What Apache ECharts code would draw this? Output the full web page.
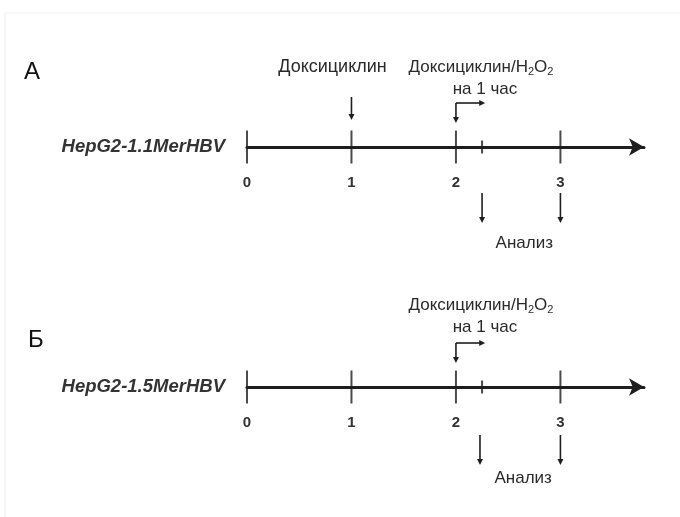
<!DOCTYPE html>
<html><head><meta charset="utf-8">
<script src="https://cdn.jsdelivr.net/npm/echarts@6/dist/echarts.min.js"></script>
<style>html,body{margin:0;padding:0;background:#fff}#c{width:680px;height:517px}</style>
</head><body><div id="c"></div>
<script>
// ---- data ----
const days = [0, 1, 2, 3];              // day tick labels
const minorTicks = [2.25];              // small tick (1 h after treatment)
const panelLetters = ['А', 'Б'];
const cellLines = ['HepG2-1.1MerHBV', 'HepG2-1.5MerHBV'];
const doxDays = [[1], []];              // doxycycline addition (panel A only)
const treatStart = [2, 2];              // doxycycline/H2O2 start
const treatEnd = [2.28, 2.28];          // end of 1 h treatment arrow
const analysisDays = [[2.25, 3], [2.23, 3]];
const doxLabel = 'Доксициклин';
const treatLabelParts = ['Доксициклин/H', '2', 'O', '2'];
const treatSubLabel = 'на 1 час';
const analysisLabel = 'Анализ';
const xMax = 3.8;

// ---- layout ----
const axisY = [147, 387];
const labelOff = [{treat: -80, sub: -58, ana: 96, aTop: 46}, {treat: -82, sub: -60, ana: 91, aTop: 48}];
const font = '"Liberation Sans", Arial, sans-serif';
const ink = '#1e1e1e';
const txt = '#2a2a2a';

const chart = echarts.init(document.getElementById('c'));

function downArrow(x, y1, y2) {
  return [
    {type: 'line', shape: {x1: x, y1: y1, x2: x, y2: y2 - 4}, style: {stroke: ink, lineWidth: 1.6}},
    {type: 'polygon', shape: {points: [[x - 3, y2 - 6], [x + 3, y2 - 6], [x, y2]]}, style: {fill: ink}}
  ];
}
function label(x, y, text, extra) {
  return {type: 'text', x: x, y: y, style: Object.assign({text: text, font: '17px ' + font, fill: txt, align: 'center', verticalAlign: 'middle'}, extra || {})};
}

const items = [0, 1].map(p => {
  const arr = [{kind: 'cell', x: 0}];
  doxDays[p].forEach(d => arr.push({kind: 'dox', x: d}));
  arr.push({kind: 'treat', x: treatStart[p], x2: treatEnd[p]});
  arr.push({kind: 'analysis', x: analysisDays[p][0], xs: analysisDays[p]});
  return arr;
});

function makeRender(p) {
  return function (params, api) {
    const it = items[p][params.dataIndex];
    const c = api.coord([it.x, 0]);
    const x0 = c[0], y0 = c[1];
    const o = labelOff[p];
    let ch = [];
    if (it.kind === 'cell') {
      ch.push(label(x0 - 22, y0, cellLines[p], {font: 'italic bold 18.5px ' + font, align: 'right', fill: '#333'}));
    } else if (it.kind === 'dox') {
      ch = ch.concat(downArrow(x0, y0 - 50, y0 - 27));
      ch.push(label(x0 - 19, y0 - 80, doxLabel, {font: '18px ' + font}));
    } else if (it.kind === 'treat') {
      const x1 = api.coord([it.x2, 0])[0];
      const yt = y0 - 44;
      ch = ch.concat(downArrow(x0, yt, y0 - 24));
      ch.push({type: 'line', shape: {x1: x0, y1: yt, x2: x1 - 4, y2: yt}, style: {stroke: ink, lineWidth: 1.6}});
      ch.push({type: 'polygon', shape: {points: [[x1 - 6, yt - 3], [x1 - 6, yt + 3], [x1, yt]]}, style: {fill: ink}});
      ch.push({type: 'text', x: x0 + 25, y: y0 + o.treat, style: {
        text: '{a|' + treatLabelParts[0] + '}{s|' + treatLabelParts[1] + '}{a|' + treatLabelParts[2] + '}{s|' + treatLabelParts[3] + '}',
        align: 'center', verticalAlign: 'middle',
        rich: {a: {fontSize: 17, fontFamily: font, fill: txt, lineHeight: 20},
               s: {fontSize: 11, fontFamily: font, fill: txt, lineHeight: 10, verticalAlign: 'bottom'}}
      }});
      ch.push(label(x0 + 29, y0 + o.sub, treatSubLabel));
    } else if (it.kind === 'analysis') {
      const xs = it.xs.map(d => api.coord([d, 0])[0]);
      xs.forEach(xa => { ch = ch.concat(downArrow(xa, y0 + o.aTop, y0 + o.aTop + 30)); });
      ch.push(label((xs[0] + xs[xs.length - 1]) / 2 + 3, y0 + o.ana, analysisLabel));
    }
    return {type: 'group', children: ch};
  };
}

const grid = [], xAxis = [], yAxis = [], series = [];
[0, 1].forEach(p => {
  grid.push({left: 247, right: 36, top: axisY[p] - 60, height: 60});
  xAxis.push({gridIndex: p, type: 'value', min: 0, max: xMax, interval: 1, position: 'bottom',
    axisLine: {onZero: false, lineStyle: {color: ink, width: 3}, symbol: ['none', 'arrow'], symbolSize: [13, 15]},
    axisTick: {show: false}, splitLine: {show: false},
    axisLabel: {customValues: days, fontWeight: 'bold', fontSize: 15, color: '#333', margin: 28, fontFamily: font}
  });
  yAxis.push({gridIndex: p, type: 'value', min: 0, max: 1, show: false});
  series.push({type: 'scatter', xAxisIndex: p, yAxisIndex: p, symbol: 'rect', symbolSize: [2, 33],
    itemStyle: {color: ink}, silent: true, data: days.map(d => [d, 0]), z: 3, clip: false});
  series.push({type: 'scatter', xAxisIndex: p, yAxisIndex: p, symbol: 'rect', symbolSize: [2, 13],
    itemStyle: {color: ink}, silent: true, data: minorTicks.map(d => [d, 0]), z: 3, clip: false});
  series.push({type: 'custom', xAxisIndex: p, yAxisIndex: p, silent: true, renderItem: makeRender(p),
    data: items[p].map(it => [it.x, 0]), z: 4, clip: false});
});

chart.setOption({
  backgroundColor: '#fff',
  animation: false,
  title: [
    {text: panelLetters[0], left: 19, top: 55, textStyle: {fontSize: 24, fontWeight: 'normal', color: '#111', fontFamily: font}},
    {text: panelLetters[1], left: 23, top: 323, textStyle: {fontSize: 24, fontWeight: 'normal', color: '#111', fontFamily: font}}
  ],
  graphic: [
    {type: 'line', shape: {x1: 5, y1: 13, x2: 5, y2: 517}, style: {stroke: '#ededed', lineWidth: 1}, silent: true},
    {type: 'line', shape: {x1: 5, y1: 13, x2: 680, y2: 13}, style: {stroke: '#f2f2f2', lineWidth: 1}, silent: true}
  ],
  grid: grid, xAxis: xAxis, yAxis: yAxis, series: series
});
</script></body></html>
